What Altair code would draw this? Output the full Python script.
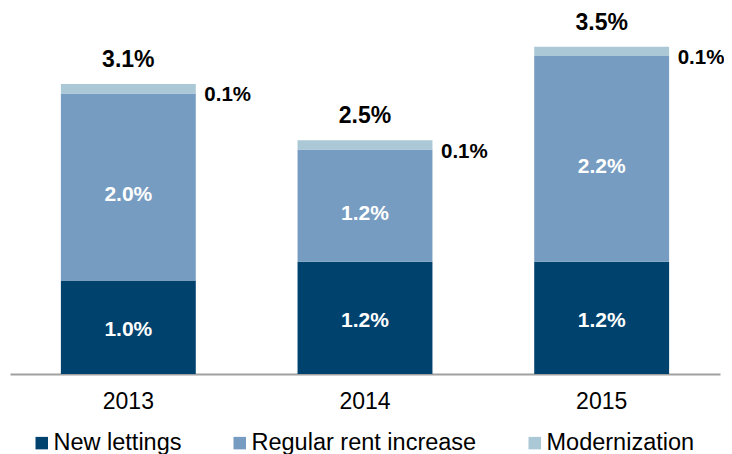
import altair as alt
import pandas as pd

years = ["2013", "2014", "2015"]
new_lettings = [1.0, 1.2, 1.2]
regular_increase = [2.0, 1.2, 2.2]
modernization = [0.1, 0.1, 0.1]
series = ["New lettings", "Regular rent increase", "Modernization"]
colors = ["#00426E", "#769CC1", "#AAC8D6"]

FONT = "Liberation Sans, Arial, Helvetica, sans-serif"

rows = []
totals = []
for i, yr in enumerate(years):
    base = 0.0
    for k, (s, vals) in enumerate(zip(series, [new_lettings, regular_increase, modernization])):
        v = vals[i]
        rows.append({"year": yr, "series": s, "order": k, "start": base,
                     "end": base + v, "mid": base + v / 2, "label": f"{v:.1f}%"})
        base += v
    totals.append({"year": yr, "total": round(base, 1), "label": f"{round(base, 1):.1f}%"})
df = pd.DataFrame(rows)
tot = pd.DataFrame(totals)

x = alt.X("year:N", sort=years,
          scale=alt.Scale(paddingInner=0.43, paddingOuter=0.215),
          axis=alt.Axis(title=None, labelAngle=0, ticks=False, domainColor="#A0A0A0",
                        domainWidth=2, labelFontSize=23, labelFont=FONT,
                        labelColor="black", labelPadding=16, grid=False))
yscale = alt.Scale(domain=[0, 3.7], nice=False, zero=True)

bars = alt.Chart(df).mark_bar().encode(
    x=x,
    y=alt.Y("start:Q", scale=yscale, axis=None),
    y2="end:Q",
    color=alt.Color("series:N", sort=series,
                    scale=alt.Scale(domain=series, range=colors),
                    legend=alt.Legend(orient="none", legendX=20, legendY=403,
                                      direction="horizontal", title=None,
                                      symbolType="square", symbolSize=156,
                                      symbolStrokeWidth=0, labelFontSize=23.5,
                                      labelFont=FONT, labelColor="black",
                                      columnPadding=46, labelOffset=0,
                                      labelLimit=400)),
    order=alt.Order("order:Q"),
)

reg_labels = alt.Chart(df).transform_filter(
    alt.datum.series == "Regular rent increase"
).mark_text(color="white", fontWeight="bold", fontSize=21, font=FONT,
            baseline="middle", dy=8).encode(
    x=x, y=alt.Y("mid:Q", scale=yscale, axis=None), text="label:N")

new_labels = alt.Chart(df).transform_filter(
    alt.datum.series == "New lettings"
).mark_text(color="white", fontWeight="bold", fontSize=21, font=FONT,
            baseline="middle", dy=3).encode(
    x=x, y=alt.Y("mid:Q", scale=yscale, axis=None), text="label:N")

mod_labels = alt.Chart(df).transform_filter(
    alt.datum.series == "Modernization"
).mark_text(color="black", fontWeight="bold", fontSize=20.5, font=FONT,
            baseline="middle", align="left", dx=76, dy=2).encode(
    x=x, y=alt.Y("start:Q", scale=yscale, axis=None), text="label:N")

tot_labels = alt.Chart(tot).mark_text(color="black", fontWeight="bold", fontSize=23,
                                      font=FONT, baseline="middle", dy=-24).encode(
    x=x, y=alt.Y("total:Q", scale=yscale, axis=None), text="label:N")

chart = alt.layer(bars, reg_labels, new_labels, mod_labels, tot_labels).properties(
    width=710, height=346, autosize="none", background="white",
    padding={"left": 2, "top": 20, "right": 4, "bottom": 80},
).configure_view(stroke=None, strokeWidth=0)

chart.save("out.html", embed_options={"renderer": "svg", "actions": False})
